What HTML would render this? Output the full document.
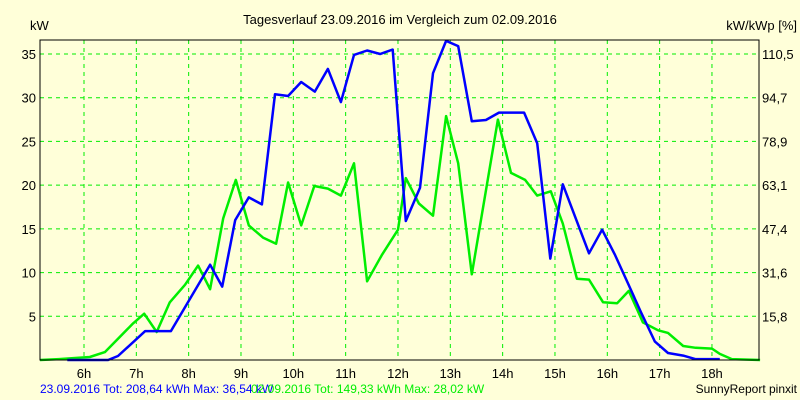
<!DOCTYPE html>
<html><head><meta charset="utf-8"><style>
body{margin:0;background:#ffffd9;}
svg{display:block;font-family:"Liberation Sans",sans-serif;}
</style></head><body>
<svg id="chart" width="800" height="400">
<rect x="0" y="0" width="800" height="400" fill="#ffffd9"/>
<text x="400" y="24" text-anchor="middle" font-size="13">Tagesverlauf 23.09.2016 im Vergleich zum 02.09.2016</text>
<text x="30" y="30" font-size="13">kW</text>
<text x="797" y="30" text-anchor="end" font-size="13">kW/kWp [%]</text>
<g id="grid"></g>
<g id="series"></g>
<rect x="40" y="40" width="719" height="320" fill="none" stroke="#000" stroke-width="1"/>
<g id="labels"></g>
<text x="40" y="393" font-size="12" fill="#0000ff">23.09.2016 Tot: 208,64 kWh Max: 36,54 kW</text>
<text x="251" y="393" font-size="12" fill="#00ee00">02.09.2016 Tot: 149,33 kWh Max: 28,02 kW</text>
<text x="797" y="393" text-anchor="end" font-size="12">SunnyReport pinxit</text>
</svg>
<script>
const hourTicks=[6,7,8,9,10,11,12,13,14,15,16,17,18];
const kwTicks=[5,10,15,20,25,30,35];
const pctTicks=["15,8","31,6","47,4","63,1","78,9","94,7","110,5"];
const blueHours=[5.68,6.46,6.65,7.17,7.66,8.41,8.64,8.89,9.15,9.40,9.65,9.90,10.15,10.41,10.66,10.91,11.16,11.41,11.66,11.90,12.15,12.42,12.67,12.92,13.15,13.41,13.68,13.93,14.41,14.66,14.91,15.15,15.65,15.90,16.15,16.40,16.64,16.91,17.16,17.45,17.68,18.15];
const blueKw=[0,0,0.46,3.3,3.3,10.9,8.4,16.0,18.6,17.8,30.4,30.2,31.8,30.7,33.3,29.5,34.9,35.4,35.0,35.5,15.9,19.7,32.8,36.5,35.9,27.3,27.45,28.3,28.3,24.8,11.6,20.1,12.2,14.9,12.0,8.7,5.5,2.1,0.8,0.5,0.1,0.1];
const greenHours=[5.16,5.52,6.11,6.40,6.94,7.15,7.39,7.64,7.93,8.18,8.41,8.66,8.90,9.15,9.42,9.67,9.90,10.15,10.40,10.66,10.91,11.16,11.41,11.69,12.00,12.15,12.40,12.67,12.92,13.15,13.41,13.91,14.16,14.43,14.66,14.92,15.15,15.42,15.65,15.92,16.19,16.41,16.68,16.97,17.16,17.45,17.69,18.00,18.15,18.38,18.92];
const greenKw=[0,0.1,0.34,0.9,4.2,5.3,3.2,6.6,8.6,10.8,8.1,16.2,20.6,15.4,14.0,13.3,20.3,15.4,19.9,19.6,18.8,22.5,9.0,12.0,14.9,20.8,17.9,16.5,27.9,22.5,9.8,27.5,21.4,20.6,18.8,19.3,15.6,9.3,9.2,6.6,6.5,7.9,4.3,3.4,3.1,1.6,1.4,1.3,0.7,0.1,0];
const NS="http://www.w3.org/2000/svg";
function xs(h){return 84+(h-6)*52.33;}
function ys(k){return 360-k*8.743;}
function mk(tag,attrs,parent){const e=document.createElementNS(NS,tag);for(const k in attrs)e.setAttribute(k,attrs[k]);parent.appendChild(e);return e;}
const grid=document.getElementById('grid'),labels=document.getElementById('labels'),series=document.getElementById('series');
hourTicks.forEach(h=>{
  const l=mk('line',{x1:xs(h),x2:xs(h),y1:40,y2:360,stroke:'#00ee00','stroke-dasharray':'4,4'},grid);
  
  
  const t=mk('text',{x:xs(h),y:378,'text-anchor':'middle','font-size':13},labels);
  t.textContent=h+'h';
  
  
});
kwTicks.forEach((k,i)=>{
  const l=mk('line',{x1:40,x2:759,y1:ys(k),y2:ys(k),stroke:'#00ee00','stroke-dasharray':'4,4'},grid);
  
  
  const t=mk('text',{x:36,y:ys(k)+5,'text-anchor':'end','font-size':13},labels);
  t.textContent=k;
  
  
  const r=mk('text',{x:762,y:ys(k)+5,'font-size':13},labels);
  r.textContent=pctTicks[i];
  
  
});
function line(hs,ks,color,name){
  const pts=hs.map((h,i)=>xs(h).toFixed(1)+','+ys(ks[i]).toFixed(1)).join(' ');
  const p=mk('polyline',{points:pts,fill:'none',stroke:color,'stroke-width':2.5,'stroke-linejoin':'round'},series);
  
  
}
line(greenHours,greenKw,'#00ee00','series-02-09-2016');
line(blueHours,blueKw,'#0000ff','series-23-09-2016');
</script>
</body></html>
